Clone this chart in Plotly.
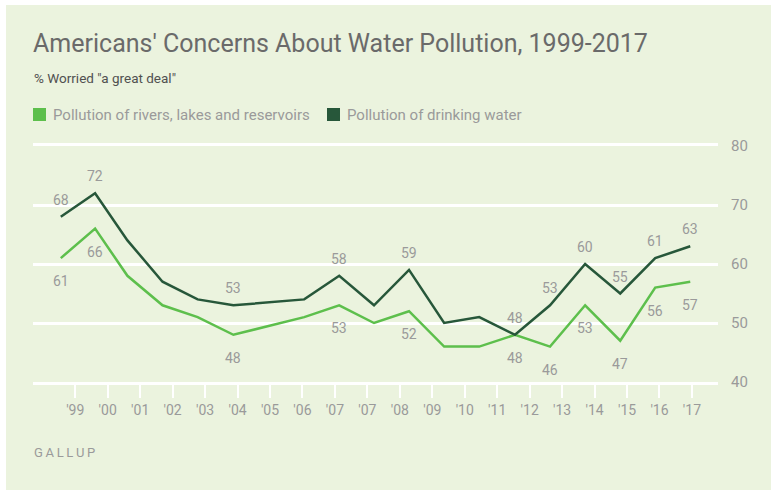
import plotly.graph_objects as go
import pandas as pd
import numpy as np

# ---------------- data ----------------
survey_dates = ["1999-04-13", "2000-04-03", "2001-03-05", "2002-03-04", "2003-03-03",
                "2004-03-08", "2006-03-13", "2007-03-11", "2008-03-06", "2009-03-05",
                "2010-03-04", "2011-03-03", "2012-03-08", "2013-03-07", "2014-03-06",
                "2015-03-05", "2016-03-02", "2017-03-01"]
rivers_lakes = [61, 66, 58, 53, 51, 48, 51, 53, 50, 52, 46, 46, 48, 46, 53, 47, 56, 57]
drinking_water = [68, 72, 64, 57, 54, 53, 54, 58, 53, 59, 50, 51, 48, 53, 60, 55, 61, 63]
labeled_years = [1999, 2000, 2004, 2007, 2009, 2012, 2013, 2014, 2015, 2016, 2017]
tick_labels = ["'99", "'00", "'01", "'02", "'03", "'04", "'05", "'06", "'07", "'07",
               "'08", "'09", "'10", "'11", "'12", "'13", "'14", "'15", "'16", "'17"]
y_ticks = [40, 50, 60, 70, 80]

series_names = ["Pollution of rivers, lakes and reservoirs", "Pollution of drinking water"]
LIGHT = "#5dbf4c"
DARK = "#27573a"
BG = "#ebf3de"
GRAY = "#9a9a9a"
FONT = "Roboto"

# decimal years
dt = pd.to_datetime(survey_dates)
xdec = [d.year + (d.dayofyear - 1) / (366 if d.is_leap_year else 365) for d in dt]

# ---------------- layout geometry (pixels) ----------------
W, H = 771, 490
ML, MR, MT, MB = 33, 53, 146, 108
PW = W - ML - MR
PH = H - MT - MB

def px(x):
    return (x - ML) / PW

def py(y):
    return (H - MB - y) / PH

# x range & tick positions
x_left, x_right = 1998.49, 2017.95
tickvals = list(np.linspace(1999.69, 2017.21, len(tick_labels)))

fig = go.Figure()

fig.add_trace(go.Scatter(x=xdec, y=rivers_lakes, mode="lines", name=series_names[0],
                         line=dict(color=LIGHT, width=2.5), hoverinfo="skip"))
fig.add_trace(go.Scatter(x=xdec, y=drinking_water, mode="lines", name=series_names[1],
                         line=dict(color=DARK, width=2.5), hoverinfo="skip"))

annotations = []
years = [d.year for d in dt]
for i, yr in enumerate(years):
    if yr in labeled_years:
        annotations.append(dict(x=xdec[i], y=drinking_water[i], xref="x", yref="y",
                                text=str(drinking_water[i]), showarrow=False, yshift=17,
                                font=dict(family=FONT, size=14, color=GRAY)))
        annotations.append(dict(x=xdec[i], y=rivers_lakes[i], xref="x", yref="y",
                                text=str(rivers_lakes[i]), showarrow=False, yshift=-23,
                                font=dict(family=FONT, size=14, color=GRAY)))

# title, subtitle, legend, source
annotations += [
    dict(x=px(31), y=py(43), xref="paper", yref="paper", xanchor="left", yanchor="middle",
         text="Americans' Concerns About Water Pollution, 1999-2017", showarrow=False,
         font=dict(family=FONT, size=25, color="#6a6a6a")),
    dict(x=px(32), y=py(78), xref="paper", yref="paper", xanchor="left", yanchor="middle",
         text="% Worried \"a great deal\"", showarrow=False,
         font=dict(family=FONT, size=13.5, color="#505050")),
    dict(x=px(51), y=py(114.5), xref="paper", yref="paper", xanchor="left", yanchor="middle",
         text=series_names[0], showarrow=False,
         font=dict(family=FONT, size=15, color=GRAY)),
    dict(x=px(345), y=py(114.5), xref="paper", yref="paper", xanchor="left", yanchor="middle",
         text=series_names[1], showarrow=False,
         font=dict(family=FONT, size=15, color=GRAY)),
    dict(x=px(32), y=py(453), xref="paper", yref="paper", xanchor="left", yanchor="middle",
         text="\u2009".join("GALLUP"), showarrow=False,
         font=dict(family=FONT, size=13, color=GRAY)),
]

shapes = [
    dict(type="rect", xref="paper", yref="paper", x0=px(6), x1=px(W + 5), y0=py(H + 5), y1=py(5),
         fillcolor=BG, line=dict(width=0), layer="below"),
    dict(type="rect", xref="paper", yref="paper", x0=px(33), x1=px(46), y0=py(121), y1=py(108),
         fillcolor=LIGHT, line=dict(width=0)),
    dict(type="rect", xref="paper", yref="paper", x0=px(327), x1=px(340), y0=py(121), y1=py(108),
         fillcolor=DARK, line=dict(width=0)),
]

fig.update_layout(
    width=W, height=H,
    margin=dict(l=ML, r=MR, t=MT, b=MB),
    paper_bgcolor="white",
    plot_bgcolor="rgba(0,0,0,0)",
    showlegend=False,
    annotations=annotations,
    shapes=shapes,
    xaxis=dict(range=[x_left, x_right], tickvals=tickvals, ticktext=tick_labels,
               showgrid=False, zeroline=False,
               showline=True, linecolor="white", linewidth=2.5, mirror=True,
               ticks="outside", ticklen=13, tickwidth=2, tickcolor="white",
               tickfont=dict(family=FONT, size=14, color=GRAY), fixedrange=True),
    yaxis=dict(range=[40, 80], tickvals=y_ticks, side="right",
               showgrid=True, gridcolor="white", gridwidth=2.5,
               zeroline=False, showline=False, ticks="",
               ticklabelstandoff=12,
               tickfont=dict(family=FONT, size=15, color=GRAY), fixedrange=True),
)

fig.write_html("out.html")
